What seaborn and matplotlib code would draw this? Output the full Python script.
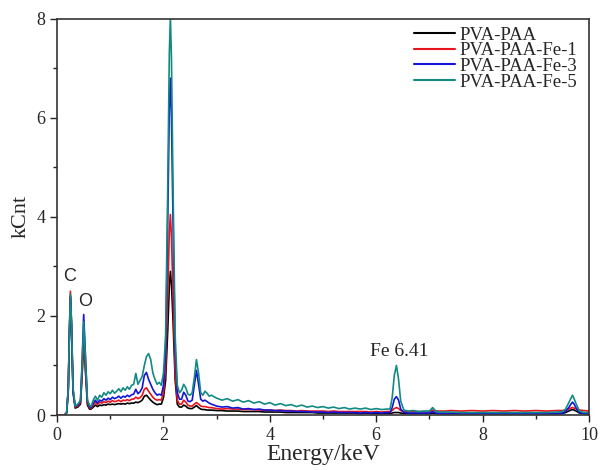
import matplotlib

matplotlib.use("Agg")

import matplotlib.pyplot as plt
import numpy as np
import pandas as pd
import seaborn as sns
from matplotlib.ticker import MultipleLocator

# energy axis (keV) shared by all four spectra
energy = [
    # C / O region
    0.00, 0.14, 0.18, 0.21, 0.23, 0.25, 0.27, 0.30, 0.34, 0.39, 0.44, 0.47, 0.50, 0.53, 0.57, 0.61,
    # background + 1.5 / 1.7 keV peaks
    0.64, 0.68, 0.72, 0.76, 0.80, 0.84, 0.88, 0.92, 0.96, 1.00, 1.04, 1.08, 1.12, 1.16, 1.20, 1.24,
    1.28, 1.32, 1.36, 1.40, 1.44, 1.48, 1.52, 1.56, 1.60, 1.64, 1.68, 1.72, 1.76, 1.80, 1.84, 1.88,
    1.92, 1.96, 2.00,
    # main peak
    2.04, 2.08, 2.11, 2.13, 2.15, 2.18, 2.22, 2.26, 2.30,
    # 2.4 / 2.6 keV peaks
    2.34, 2.38, 2.42, 2.46, 2.50, 2.54, 2.58, 2.62, 2.66, 2.70, 2.74, 2.78, 2.82, 2.86, 2.90,
    # tail
    3.0, 3.1, 3.2, 3.3, 3.4, 3.5, 3.6, 3.7, 3.8, 3.9, 4.0, 4.1, 4.2, 4.3, 4.4, 4.5, 4.6, 4.7,
    4.8, 4.9, 5.0, 5.1, 5.2, 5.3, 5.4, 5.5, 5.6, 5.7, 5.8, 5.9, 6.0, 6.1, 6.2,
    # Fe peak
    6.26, 6.30, 6.34, 6.38, 6.42, 6.46, 6.52, 6.60, 6.70, 6.80, 6.90, 7.00, 7.06, 7.12, 7.20, 7.30,
    7.4, 7.6, 7.8, 8.0, 8.2, 8.4, 8.6, 8.8, 9.0, 9.2, 9.4,
    # 9.7 keV peak
    9.50, 9.56, 9.62, 9.66, 9.69, 9.72, 9.76, 9.82, 9.90, 10.00,
]

pva_paa = [
    np.nan, 0, 0.04, 0.5, 1.55, 2.4, 1.8, 0.45, 0.14, 0.16, 0.22, 0.8, 1.5, 0.95, 0.2, 0.12,
    0.12, 0.16, 0.20, 0.17, 0.20, 0.19, 0.21, 0.20, 0.22, 0.21, 0.22, 0.21, 0.22, 0.23, 0.22, 0.23,
    0.22, 0.24, 0.23, 0.24, 0.24, 0.26, 0.25, 0.27, 0.30, 0.38, 0.40, 0.35, 0.30, 0.26, 0.23, 0.21,
    0.22, 0.22, 0.35,
    0.7, 1.7, 2.6, 2.9, 2.65, 1.9, 0.7, 0.22, 0.16,
    0.16, 0.20, 0.18, 0.14, 0.13, 0.13, 0.16, 0.19, 0.15, 0.12, 0.11, 0.11, 0.10, 0.10, 0.10,
    0.09, 0.09, 0.08, 0.08, 0.08, 0.07, 0.07, 0.07, 0.07, 0.06, 0.06, 0.06, 0.06, 0.05, 0.05, 0.05,
    0.05, 0.05, 0.05, 0.04, 0.04, 0.04, 0.04, 0.04, 0.04, 0.04, 0.04, 0.03, 0.04, 0.03, 0.03, 0.03, 0.03,
    0.03, 0.04, 0.05, 0.05, 0.05, 0.04, 0.03, 0.03, 0.03, 0.03, 0.03, 0.03, 0.04, 0.03, 0.03, 0.03,
    0.03, 0.03, 0.03, 0.03, 0.03, 0.03, 0.03, 0.03, 0.03, 0.03, 0.03,
    0.03, 0.05, 0.08, 0.10, 0.11, 0.10, 0.08, 0.04, 0.03, 0.03,
]

pva_paa_fe1 = [
    0, 0, 0.05, 0.55, 1.65, 2.5, 1.9, 0.5, 0.16, 0.18, 0.25, 0.85, 1.6, 1.0, 0.24, 0.15,
    0.14, 0.20, 0.26, 0.21, 0.26, 0.24, 0.27, 0.25, 0.28, 0.26, 0.29, 0.27, 0.28, 0.30, 0.27, 0.30,
    0.29, 0.31, 0.29, 0.32, 0.32, 0.36, 0.33, 0.35, 0.40, 0.52, 0.55, 0.48, 0.42, 0.36, 0.32, 0.30,
    0.31, 0.30, 0.45,
    0.95, 2.4, 3.7, 4.05, 3.6, 2.4, 0.85, 0.3, 0.22,
    0.22, 0.30, 0.26, 0.20, 0.18, 0.18, 0.22, 0.25, 0.22, 0.18, 0.17, 0.17, 0.16, 0.15, 0.15,
    0.13, 0.12, 0.13, 0.12, 0.12, 0.11, 0.11, 0.11, 0.10, 0.10, 0.10, 0.09, 0.10, 0.09, 0.09, 0.08,
    0.09, 0.08, 0.08, 0.08, 0.08, 0.07, 0.08, 0.07, 0.07, 0.07, 0.07, 0.07, 0.07, 0.06, 0.07, 0.06, 0.07,
    0.07, 0.09, 0.13, 0.15, 0.13, 0.09, 0.07, 0.07, 0.07, 0.07, 0.07, 0.07, 0.10, 0.08, 0.08, 0.08,
    0.09, 0.08, 0.09, 0.08, 0.09, 0.08, 0.09, 0.08, 0.09, 0.08, 0.09,
    0.09, 0.10, 0.12, 0.14, 0.15, 0.14, 0.12, 0.10, 0.09, 0.08,
]

pva_paa_fe3 = [
    np.nan, 0, 0.05, 0.5, 1.55, 2.38, 1.85, 0.5, 0.17, 0.2, 0.28, 1.05, 2.03, 1.3, 0.28, 0.18,
    0.15, 0.24, 0.30, 0.24, 0.30, 0.28, 0.33, 0.30, 0.34, 0.31, 0.36, 0.33, 0.35, 0.38, 0.34, 0.38,
    0.36, 0.40, 0.37, 0.41, 0.42, 0.52, 0.43, 0.47, 0.55, 0.80, 0.86, 0.72, 0.62, 0.52, 0.45, 0.40,
    0.42, 0.40, 0.60,
    1.3, 3.9, 6.2, 6.8, 6.0, 3.9, 1.3, 0.45, 0.32,
    0.32, 0.46, 0.40, 0.28, 0.27, 0.30, 0.60, 0.90, 0.62, 0.32, 0.28, 0.30, 0.27, 0.24, 0.22,
    0.18, 0.16, 0.17, 0.14, 0.15, 0.12, 0.13, 0.11, 0.12, 0.10, 0.10, 0.09, 0.09, 0.08, 0.08, 0.07,
    0.07, 0.07, 0.06, 0.06, 0.06, 0.05, 0.06, 0.05, 0.05, 0.05, 0.05, 0.04, 0.05, 0.04, 0.05, 0.04, 0.05,
    0.05, 0.15, 0.32, 0.37, 0.30, 0.12, 0.05, 0.04, 0.04, 0.04, 0.04, 0.04, 0.07, 0.04, 0.03, 0.03,
    0.03, 0.03, 0.03, 0.03, 0.03, 0.03, 0.03, 0.03, 0.03, 0.03, 0.03,
    0.04, 0.07, 0.15, 0.22, 0.26, 0.22, 0.14, 0.05, 0.03, 0.03,
]

pva_paa_fe5 = [
    np.nan, 0, 0.05, 0.55, 1.6, 2.45, 1.9, 0.55, 0.18, 0.22, 0.3, 1.0, 1.88, 1.2, 0.3, 0.2,
    0.17, 0.30, 0.38, 0.30, 0.40, 0.36, 0.45, 0.40, 0.47, 0.43, 0.50, 0.44, 0.48, 0.53, 0.47, 0.55,
    0.50, 0.57, 0.52, 0.60, 0.62, 0.84, 0.62, 0.70, 0.78, 1.00, 1.18, 1.24, 1.12, 0.85, 0.72, 0.62,
    0.66, 0.60, 0.85,
    1.6, 4.6, 7.3, 8.05, 7.2, 4.6, 1.6, 0.6, 0.45,
    0.50, 0.62, 0.55, 0.42, 0.40, 0.45, 0.75, 1.12, 0.85, 0.45, 0.40, 0.48, 0.44, 0.38, 0.40,
    0.34, 0.30, 0.33, 0.28, 0.31, 0.26, 0.29, 0.24, 0.27, 0.22, 0.25, 0.20, 0.23, 0.19, 0.21, 0.17,
    0.20, 0.16, 0.18, 0.15, 0.17, 0.14, 0.16, 0.13, 0.15, 0.12, 0.14, 0.12, 0.14, 0.11, 0.13, 0.11, 0.12,
    0.12, 0.35, 0.80, 1.00, 0.72, 0.28, 0.10, 0.08, 0.09, 0.07, 0.08, 0.08, 0.15, 0.08, 0.06, 0.06,
    0.06, 0.05, 0.05, 0.05, 0.05, 0.05, 0.05, 0.05, 0.05, 0.05, 0.06,
    0.07, 0.12, 0.25, 0.34, 0.40, 0.33, 0.22, 0.08, 0.05, 0.05,
]

samples = ["PVA-PAA", "PVA-PAA-Fe-1", "PVA-PAA-Fe-3", "PVA-PAA-Fe-5"]
colors = ["#000000", "#e8141c", "#1414d8", "#128a82"]

series = [pva_paa, pva_paa_fe1, pva_paa_fe3, pva_paa_fe5]
for vals in series:
    assert len(vals) == len(energy), (len(vals), len(energy))

df = pd.concat(
    [pd.DataFrame({"energy": energy, "kcnt": vals, "sample": name}) for name, vals in zip(samples, series)],
    ignore_index=True,
)

sns.set_style("ticks")
plt.rcParams["font.family"] = ["Liberation Serif", "DejaVu Serif"]

fig = plt.figure(figsize=(6.01, 4.70), dpi=100)
ax = fig.add_axes([0.095, 0.117, 0.885, 0.843])

sns.lineplot(
    data=df,
    x="energy",
    y="kcnt",
    hue="sample",
    hue_order=samples,
    palette=dict(zip(samples, colors)),
    estimator=None,
    sort=False,
    linewidth=1.2,
    ax=ax,
)

ax.set_xlim(0, 10)
ax.set_ylim(0, 8)
ax.xaxis.set_major_locator(MultipleLocator(2))
ax.xaxis.set_minor_locator(MultipleLocator(1))
ax.yaxis.set_major_locator(MultipleLocator(2))
ax.yaxis.set_minor_locator(MultipleLocator(1))
ax.tick_params(which="both", direction="out", top=False, right=False, labelsize=13, color="#222222")
ax.tick_params(which="major", length=5, width=1)
ax.tick_params(which="minor", length=3, width=1)
for side in ax.spines.values():
    side.set_visible(True)
    side.set_color("#333333")
    side.set_linewidth(1.2)

ax.set_xlabel("Energy/keV", fontsize=17, labelpad=0)
ax.set_ylabel("kCnt", fontsize=16, labelpad=4)

ax.text(0.23, 2.79, "C", family="Liberation Sans", fontsize=13, ha="center", va="center")
ax.text(0.53, 2.29, "O", family="Liberation Sans", fontsize=13, ha="center", va="center")
ax.text(6.44, 1.29, "Fe 6.41", fontsize=14, ha="center", va="center")

leg = ax.legend(
    loc="upper right",
    frameon=False,
    fontsize=13.5,
    handlelength=2.2,
    handletextpad=0.25,
    labelspacing=-0.08,
    borderpad=0.2,
    borderaxespad=0.0,
    bbox_to_anchor=(0.985, 0.99),
)
for line in leg.get_lines():
    line.set_linewidth(1.5)

fig.savefig("out.png", dpi=100)
